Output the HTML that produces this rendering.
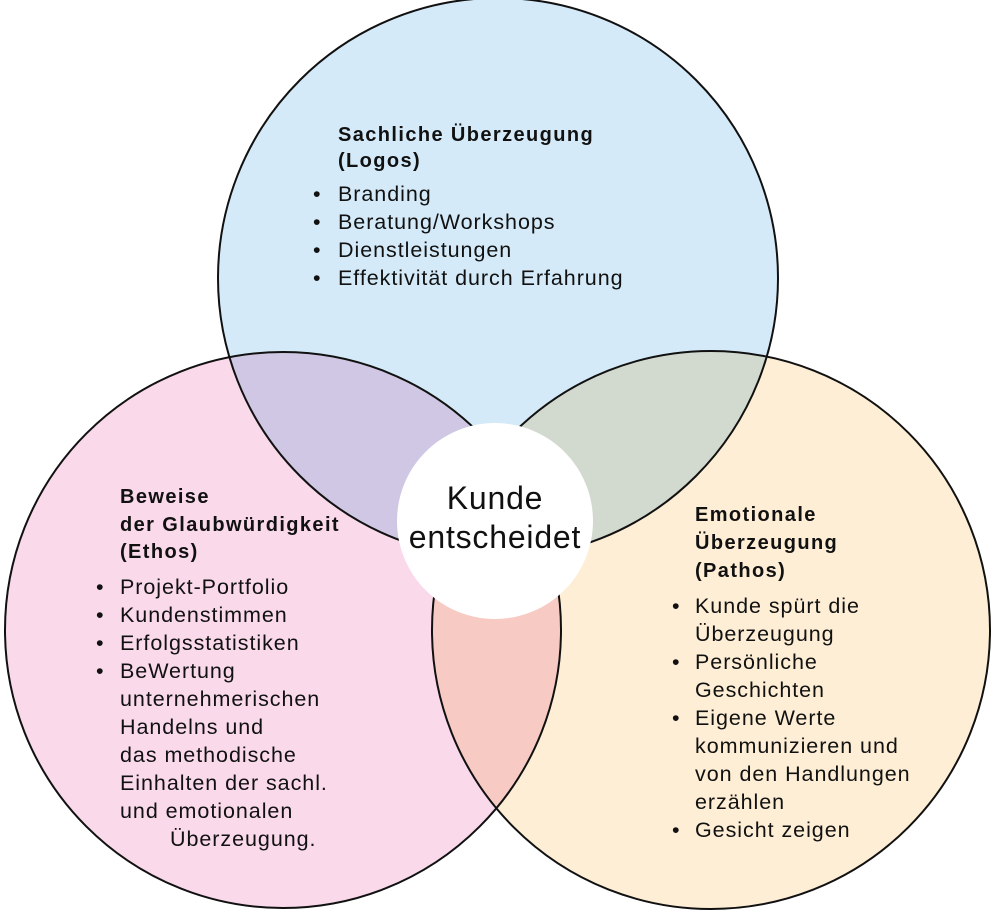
<!DOCTYPE html>
<html><head><meta charset="utf-8"><style>
html,body{margin:0;padding:0;background:#fff}
svg{display:block}
text{font-family:"Liberation Sans",sans-serif;fill:#111}
.t{font-size:21.5px;letter-spacing:0.95px}
.b{font-size:20px;font-weight:bold;letter-spacing:1.4px}
.c{font-size:32px;letter-spacing:0.8px}
</style></head><body>
<svg width="994" height="911" viewBox="0 0 994 911" xmlns="http://www.w3.org/2000/svg">
<g style="isolation:isolate">
<circle cx="498" cy="278" r="280" fill="#d4eaf8"/>
<circle cx="283" cy="630" r="278" fill="#f9d9ea" style="mix-blend-mode:multiply"/>
<circle cx="711" cy="630" r="279" fill="#fdeed5" style="mix-blend-mode:multiply"/>
</g>
<g fill="none" stroke="#111" stroke-width="2">
<circle cx="498" cy="278" r="280"/>
<circle cx="283" cy="630" r="278"/>
<circle cx="711" cy="630" r="279"/>
</g>
<circle cx="495" cy="521" r="98" fill="#fff"/>
<text class="c" x="495" y="509" text-anchor="middle">Kunde</text>
<text class="c" x="495" y="548" text-anchor="middle">entscheidet</text>

<text class="b" x="338" y="141">Sachliche Überzeugung</text>
<text class="b" x="338" y="167">(Logos)</text>
<g class="t">
<text x="313" y="201">•</text><text x="338" y="201">Branding</text>
<text x="313" y="229">•</text><text x="338" y="229">Beratung/Workshops</text>
<text x="313" y="257">•</text><text x="338" y="257">Dienstleistungen</text>
<text x="313" y="285">•</text><text x="338" y="285">Effektivität durch Erfahrung</text>
</g>

<text class="b" x="120" y="503">Beweise</text>
<text class="b" x="120" y="531">der Glaubwürdigkeit</text>
<text class="b" x="120" y="558">(Ethos)</text>
<g class="t">
<text x="96" y="594">•</text><text x="120" y="594">Projekt-Portfolio</text>
<text x="96" y="622">•</text><text x="120" y="622">Kundenstimmen</text>
<text x="96" y="650">•</text><text x="120" y="650">Erfolgsstatistiken</text>
<text x="96" y="678">•</text><text x="120" y="678">BeWertung</text>
<text x="120" y="706">unternehmerischen</text>
<text x="120" y="734">Handelns und</text>
<text x="120" y="762">das methodische</text>
<text x="120" y="790">Einhalten der sachl.</text>
<text x="120" y="818">und emotionalen</text>
<text x="170" y="846">Überzeugung.</text>
</g>

<text class="b" x="695" y="521">Emotionale</text>
<text class="b" x="695" y="549">Überzeugung</text>
<text class="b" x="695" y="577">(Pathos)</text>
<g class="t">
<text x="672" y="613">•</text><text x="695" y="613">Kunde spürt die</text>
<text x="695" y="641">Überzeugung</text>
<text x="672" y="669">•</text><text x="695" y="669">Persönliche</text>
<text x="695" y="697">Geschichten</text>
<text x="672" y="725">•</text><text x="695" y="725">Eigene Werte</text>
<text x="695" y="753">kommunizieren und</text>
<text x="695" y="781">von den Handlungen</text>
<text x="695" y="809">erzählen</text>
<text x="672" y="837">•</text><text x="695" y="837">Gesicht zeigen</text>
</g>
</svg>
</body></html>
